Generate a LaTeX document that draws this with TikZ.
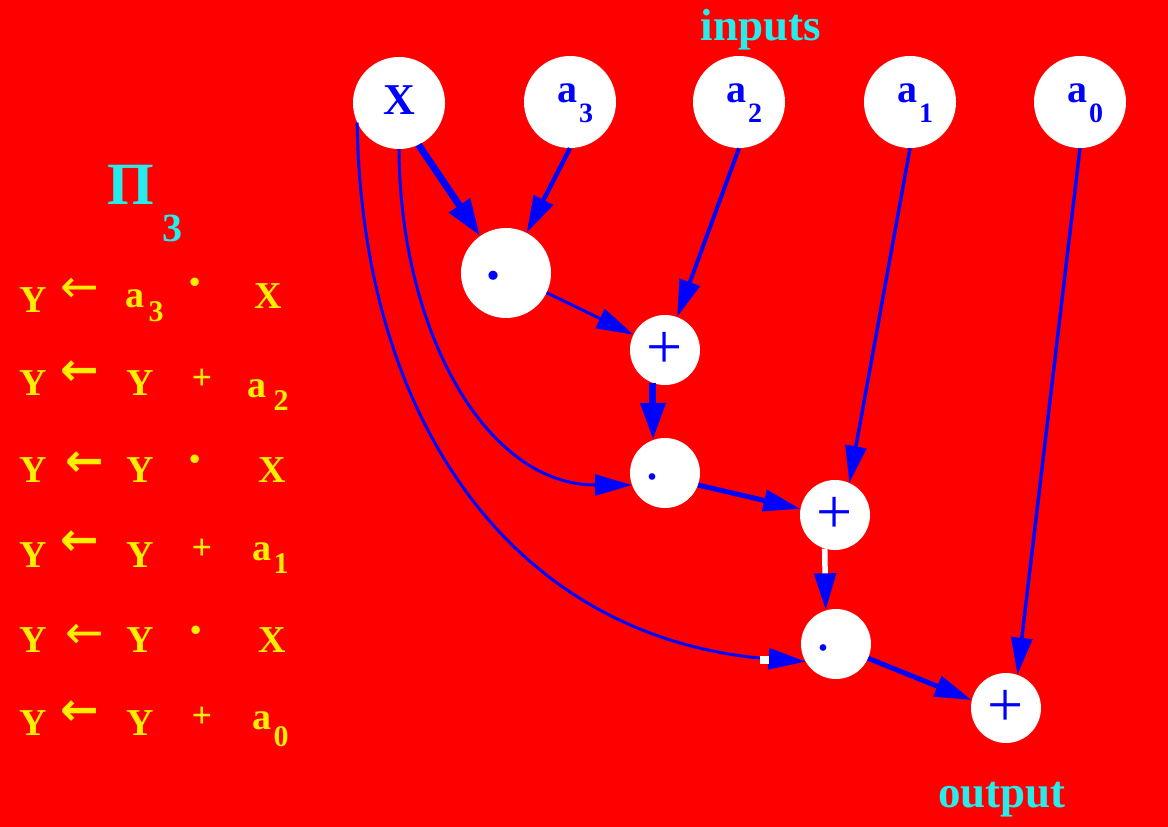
\documentclass[tikz,border=0pt]{standalone}
\usepackage{fontspec}
\setmainfont{Liberation Serif}
\newfontfamily\djv{DejaVu Sans}
\usetikzlibrary{arrows.meta}
\definecolor{bgred}{RGB}{255,0,0}
\definecolor{nblue}{RGB}{0,0,255}
\definecolor{lcyan}{RGB}{40,235,235}
\definecolor{eyellow}{RGB}{255,238,0}
\newcommand{\fs}[1]{\fontsize{#1}{#1}\selectfont}
\tikzset{
  inp/.style={circle, fill=white, minimum size=92pt, inner sep=0pt, text=nblue, font=\bfseries},
  opbig/.style={circle, fill=white, minimum size=90pt, inner sep=0pt, text=nblue, font=\bfseries},
  op/.style={circle, fill=white, minimum size=70pt, inner sep=0pt, text=nblue},
  conn/.style={draw=nblue, -{Triangle[length=37pt,width=21pt]}},
  connthick/.style={draw=nblue, -{Triangle[length=37pt,width=24pt]}},
  eq/.style={text=eyellow, inner sep=0pt, anchor=center, font=\bfseries\fs{38}},
  eqsub/.style={text=eyellow, inner sep=0pt, anchor=center, font=\bfseries\fs{30}},
  eqdot/.style={text=eyellow, inner sep=0pt, anchor=center, font=\bfseries\fs{52}},
  eqplus/.style={text=eyellow, inner sep=0pt, anchor=center, font=\bfseries\fs{36}},
  arthin/.style={text=eyellow, inner sep=0pt, anchor=center, font=\djv\fs{46}},
  arbold/.style={text=eyellow, inner sep=0pt, anchor=center, font=\djv\bfseries\fs{46}},
  lbl/.style={text=lcyan, inner sep=0pt, font=\bfseries\fs{45}},
}
\newcommand{\asub}[1]{\raisebox{0pt}[9pt][9pt]{\makebox[0pt][l]{\kern-13pt{\fs{40}a}\kern2pt\raisebox{-20pt}{\fs{28}#1}}}}
\newcommand{\opdot}{\smash{\raisebox{-6pt}{\fs{56}.}}\kern26pt}
\newcommand{\opplus}{{\fs{64}+}}
\begin{document}
\begin{tikzpicture}[x=1pt,y=-1pt]
\fill[bgred] (0,0) rectangle (1168,827);
\useasboundingbox (0,0) rectangle (1168,827);

% title and labels
\node[lbl, font=\bfseries\fs{60}, anchor=center] (pi) at (131,185) {Π};
\node[lbl, font=\bfseries\fs{40}, anchor=center] (pisub) at (172,228) {3};
\node[lbl, anchor=base] (inputs) at (761,40) {inputs};
\node[lbl, anchor=base] (output) at (1002,807) {output};

% input nodes
\node[inp] (X) at (399,103) {\raisebox{5pt}{\fs{44}X}};
\node[inp] (a3) at (570,102) {\asub{3}};
\node[inp] (a2) at (739,102) {\asub{2}};
\node[inp] (a1) at (910,102) {\asub{1}};
\node[inp] (a0) at (1080,102) {\asub{0}};

% operation nodes
\node[opbig] (d1) at (506,273) {\opdot};
\node[op] (p1) at (665,350) {\opplus};
\node[op] (d2) at (665,473) {\opdot};
\node[op] (p2) at (835,515) {\opplus};
\node[op] (d3) at (836,644) {\opdot};
\node[op] (p3) at (1006,708) {\opplus};

% connectors
\draw[connthick, line width=7pt] (X.-65) -- (d1.125);
\draw[conn, line width=4.5pt] (a3.south) -- (d1);
\draw[conn, line width=4pt] (a2.south) -- (p1);
\draw[conn, line width=3pt] (d1) -- (p1);
\draw[connthick, line width=7pt] (p1.250) -- (d2.110);
\draw[conn, line width=3pt] (X.south) .. controls (400,330) and (485,485) .. (d2.200);
\draw[conn, line width=5pt] (d2.-20) -- (p2.170);
\draw[conn, line width=3.5pt] (a1.south) -- (p2.66);
\draw[line width=5.5pt, white, -{Triangle[length=37pt,width=21pt,color=nblue]}] (p2.253) -- (d3.107);
\draw[conn, line width=3pt] (X.205) .. controls (362,430) and (520,640) .. (d3.210);
\fill[white] (760,656) rectangle (769,664);
\draw[conn, line width=5pt] (d3.-24) -- (p3.167);
\draw[conn, line width=3.5pt] (a0.south) -- (p3.71);

% program listing
\node[eq] (r1y) at (33,300) {Y};
\node[arthin] (r1ar) at (80,290) {←};
\node[eq] (r1a) at (135,299) {a};
\node[eqsub] (r1s) at (156,312) {3};
\node[eqdot] (r1op) at (195,289) {·};
\node[eq] (r1x) at (268,296) {X};

\node[eq] (r2y) at (33,383) {Y};
\node[arbold] (r2ar) at (80,373) {←};
\node[eq] (r2y2) at (140,383) {Y};
\node[eqplus] (r2op) at (202,379) {+};
\node[eq] (r2a) at (257,389) {a};
\node[eqsub] (r2s) at (281,401) {2};

\node[eq] (r3y) at (33,470) {Y};
\node[arbold] (r3ar) at (85,464) {←};
\node[eq] (r3y2) at (140,470) {Y};
\node[eqdot] (r3op) at (195,466) {·};
\node[eq] (r3x) at (272,470) {X};

\node[eq] (r4y) at (33,555) {Y};
\node[arbold] (r4ar) at (80,543) {←};
\node[eq] (r4y2) at (140,555) {Y};
\node[eqplus] (r4op) at (202,549) {+};
\node[eq] (r4a) at (262,552) {a};
\node[eqsub] (r4s) at (281,564) {1};

\node[eq] (r5y) at (33,640) {Y};
\node[arthin] (r5ar) at (85,636) {←};
\node[eq] (r5y2) at (140,640) {Y};
\node[eqdot] (r5op) at (196,637) {·};
\node[eq] (r5x) at (272,640) {X};

\node[eq] (r6y) at (33,723) {Y};
\node[arbold] (r6ar) at (80,713) {←};
\node[eq] (r6y2) at (140,723) {Y};
\node[eqplus] (r6op) at (202,717) {+};
\node[eq] (r6a) at (262,721) {a};
\node[eqsub] (r6s) at (281,737) {0};
\end{tikzpicture}
\end{document}
